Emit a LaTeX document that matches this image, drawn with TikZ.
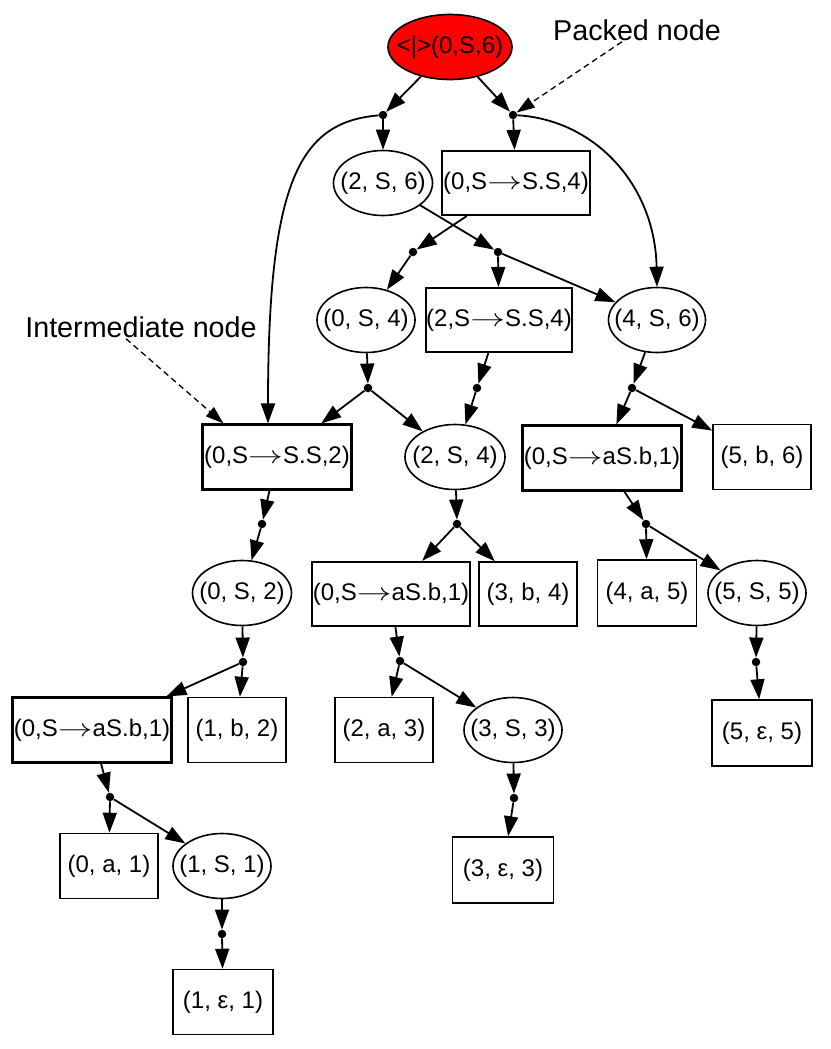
\documentclass[tikz,border=0pt]{standalone}
\usepackage{fontspec}
\setmainfont{Liberation Sans}
\usepackage{graphicx}
\usetikzlibrary{arrows.meta,shapes.geometric}

% long arrow used inside the rule labels
\newcommand{\ra}{\scalebox{1.4}[1]{$\rightarrow$}}
\newcommand{\lbl}[1]{\makebox[0pt]{#1}}

\tikzset{
  symbnode/.style={ellipse, draw, line width=1.6pt, inner sep=0pt,
    minimum width=98pt, minimum height=65pt},
  internode/.style={rectangle, draw, line width=2.1pt, inner sep=0pt,
    minimum width=159pt, minimum height=65pt},
  termnode/.style={rectangle, draw, line width=1.5pt, inner sep=0pt,
    minimum width=98pt, minimum height=65pt},
  packnode/.style={circle, fill, inner sep=0pt, minimum size=8.5pt},
  link/.style={draw, line width=1.8pt, -{Triangle[length=20pt,width=14pt]}},
  note/.style={draw, line width=1.3pt, dash pattern=on 6pt off 4pt,
    -{Triangle[length=18pt,width=12pt]}},
  notetext/.style={font=\fontsize{28.7}{33}\selectfont, inner sep=1pt}
}

\begin{document}
\begin{tikzpicture}[x=1pt, y=-1pt, font=\fontsize{24}{28}\selectfont]
    \useasboundingbox (0,0) rectangle (830,1049);
    % root and its two packings
    \node[ellipse, draw, line width=1.6pt, fill=red, inner sep=0pt,
      minimum width=124pt, minimum height=65pt] (top) at (450,47) {\lbl{<|>(0,S,6)}};
    \node[packnode] (p1) at (383,115) {};
    \node[packnode] (p2) at (513,115) {};
    \node[notetext] (lblp) at (637,30) {Packed node};
    % second row
    \node[symbnode, minimum width=99pt] (s26) at (383,183) {\lbl{(2, S, 6)}};
    \node[internode, minimum width=148pt, minimum height=64pt] (i04) at (516,183) {(0,S\ra S.S,4)};
    \node[packnode] (p3) at (498,252) {};
    \node[packnode] (p4) at (413,252) {};
    % third row
    \node[symbnode] (s04) at (366,320) {\lbl{(0, S, 4)}};
    \node[internode, minimum width=142pt, minimum height=64pt] (i24) at (499,320) {(2,S\ra S.S,4)};
    \node[symbnode, minimum width=97pt] (s46) at (657,320) {\lbl{(4, S, 6)}};
    \node[notetext] (lbli) at (141,327) {Intermediate node};
    \node[packnode] (p5) at (368,388) {};
    \node[packnode] (p6) at (477,388) {};
    \node[packnode] (p7) at (632,388) {};
    % fourth row
    \node[internode, minimum width=149pt] (i02) at (277,457) {(0,S\ra S.S,2)};
    \node[symbnode, minimum width=100pt] (s24) at (455,457) {\lbl{(2, S, 4)}};
    \node[internode] (ir1) at (602,458) {(0,S\ra aS.b,1)};
    \node[termnode] (t56) at (762,457) {(5, b, 6)};
    \node[packnode] (p8) at (262,524) {};
    \node[packnode] (p12) at (457,524) {};
    \node[packnode] (p15) at (646,524) {};
    % fifth row
    \node[symbnode, minimum width=99pt] (s02) at (242,593) {\lbl{(0, S, 2)}};
    \node[internode, minimum width=158pt, minimum height=64pt] (im1) at (391,594) {(0,S\ra aS.b,1)};
    \node[termnode, minimum height=64pt] (t34) at (528,594) {(3, b, 4)};
    \node[termnode, minimum width=99pt, minimum height=66pt] (t45) at (647,593) {(4, a, 5)};
    \node[symbnode] (s55) at (757,593) {\lbl{(5, S, 5)}};
    \node[packnode] (p9) at (243,662) {};
    \node[packnode] (p13) at (400,661) {};
    \node[packnode] (p16) at (756,662) {};
    % sixth row
    \node[internode] (il1) at (92,730) {(0,S\ra aS.b,1)};
    \node[termnode] (t12) at (237,730) {(1, b, 2)};
    \node[termnode] (t23) at (384,730) {(2, a, 3)};
    \node[symbnode] (s33) at (513,730) {\lbl{(3, S, 3)}};
    \node[termnode, minimum width=100pt, minimum height=66pt] (te5) at (762,733) {(5, ε, 5)};
    \node[packnode] (p10) at (110,797) {};
    \node[packnode] (p14) at (514,798) {};
    % lowest rows
    \node[termnode] (t01) at (109,866) {(0, a, 1)};
    \node[symbnode] (s11) at (222,866) {\lbl{(1, S, 1)}};
    \node[termnode, minimum width=101pt, minimum height=66pt] (te3) at (503,870) {(3, ε, 3)};
    \node[packnode] (p11) at (222,934) {};
    \node[termnode, minimum width=100pt] (te1) at (223,1002) {(1, ε, 1)};

    % connectors
    \draw[link] (top) -- (p1);
    \draw[link] (top) -- (p2);
    \draw[link] (p1) -- (s26);
    \draw[link] (p1) .. controls (300,122) and (268,180) .. ([xshift=-9pt]i02.north);
    \draw[link] (p2) -- (i04);
    \draw[link] (p2) .. controls (595,120) and (655,185) .. (s46.north);
    \draw[link] (s26) -- (p3);
    \draw[link] (p3) -- (i24);
    \draw[link] (p3) -- (s46);
    \draw[link] (i04) -- (p4);
    \draw[link] (p4) -- (s04);
    \draw[link] (s04) -- (p5);
    \draw[link] (p5) -- (i02);
    \draw[link] (p5) -- (s24);
    \draw[link] (i24) -- (p6);
    \draw[link] (p6) -- (s24);
    \draw[link] (s46) -- (p7);
    \draw[link] (p7) -- (ir1);
    \draw[link] (p7) -- (t56);
    \draw[link] (i02) -- (p8);
    \draw[link] (p8) -- (s02);
    \draw[link] (s02) -- (p9);
    \draw[link] (p9) -- (il1);
    \draw[link] (p9) -- (t12);
    \draw[link] (il1) -- (p10);
    \draw[link] (p10) -- (t01);
    \draw[link] (p10) -- (s11);
    \draw[link] (s11) -- (p11);
    \draw[link] (p11) -- (te1);
    \draw[link] (s24) -- (p12);
    \draw[link] (p12) -- (im1);
    \draw[link] (p12) -- (t34);
    \draw[link] (im1) -- (p13);
    \draw[link] (p13) -- (t23);
    \draw[link] (p13) -- (s33);
    \draw[link] (s33) -- (p14);
    \draw[link] (p14) -- (te3);
    \draw[link] (ir1) -- (p15);
    \draw[link] (p15) -- (t45);
    \draw[link] (p15) -- (s55);
    \draw[link] (s55) -- (p16);
    \draw[link] (p16) -- (te5);
    % annotations
    \draw[note] ([xshift=-15pt]lblp.south) -- (p2);
    \draw[note] ([xshift=-15pt]lbli.south) -- ([xshift=22pt]i02.north west);
\end{tikzpicture}
\end{document}
